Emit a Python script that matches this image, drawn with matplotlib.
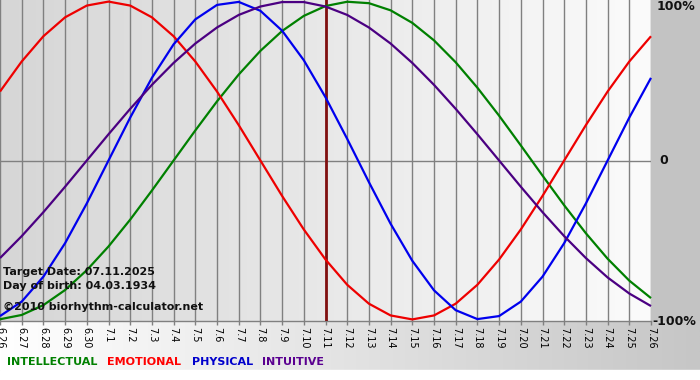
import matplotlib
matplotlib.use('Agg')
import matplotlib.pyplot as plt
import numpy as np
from matplotlib.colors import LinearSegmentedColormap
from matplotlib.patches import Rectangle

# ---- data ----
dates = ['6.26', '6.27', '6.28', '6.29', '6.30', '7.1', '7.2', '7.3', '7.4', '7.5',
         '7.6', '7.7', '7.8', '7.9', '7.10', '7.11', '7.12', '7.13', '7.14', '7.15',
         '7.16', '7.17', '7.18', '7.19', '7.20', '7.21', '7.22', '7.23', '7.24', '7.25',
         '7.26']
intellectual = [-0.999, -0.972, -0.910, -0.815, -0.690, -0.541, -0.372, -0.189, 0.0, 0.189,
                0.372, 0.541, 0.690, 0.815, 0.910, 0.972, 0.999, 0.990, 0.945, 0.866,
                0.756, 0.618, 0.458, 0.282, 0.095, -0.095, -0.282, -0.458, -0.618, -0.756,
                -0.866]
emotional = [0.434, 0.623, 0.782, 0.901, 0.975, 1.0, 0.975, 0.901, 0.782, 0.623,
             0.434, 0.223, 0.0, -0.223, -0.434, -0.623, -0.782, -0.901, -0.975, -1.0,
             -0.975, -0.901, -0.782, -0.623, -0.434, -0.223, 0.0, 0.223, 0.434, 0.623,
             0.782]
physical = [-0.979, -0.888, -0.731, -0.520, -0.270, 0.0, 0.270, 0.520, 0.731, 0.888,
            0.979, 0.998, 0.942, 0.817, 0.631, 0.398, 0.136, -0.136, -0.398, -0.631,
            -0.817, -0.942, -0.998, -0.979, -0.888, -0.731, -0.520, -0.270, 0.0, 0.270,
            0.520]
intuitive = [-0.614, -0.476, -0.325, -0.165, 0.0, 0.165, 0.325, 0.476, 0.614, 0.736,
             0.837, 0.916, 0.969, 0.997, 0.997, 0.969, 0.916, 0.837, 0.736, 0.614,
             0.476, 0.325, 0.165, 0.0, -0.165, -0.325, -0.476, -0.614, -0.736, -0.837,
             -0.916]
target_date = '7.11'
y_labels = ['100%', '0', '-100%']
y_label_values = [1.0, 0.0, -1.0]
info_lines = ['Target Date: 07.11.2025', 'Day of birth: 04.03.1934',
              '\u00a92010 biorhythm-calculator.net']
series_names = ['INTELLECTUAL', 'EMOTIONAL', 'PHYSICAL', 'INTUITIVE']
series_colors = ['#008000', '#ee0000', '#0000ee', '#4b0082']
legend_colors = ['#008000', '#ff0000', '#0000cc', '#5a0090']

W, H = 700, 380
fig = plt.figure(figsize=(7, 3.8), dpi=100)
fig.patch.set_facecolor('#c3c3c3')

# background axes in pixel coordinates
bg = fig.add_axes([0, 0, 1, 1])
grad = np.linspace(0, 1, 256).reshape(1, -1)
band_cmap = LinearSegmentedColormap.from_list('band', ['#ffffff', '#c6c6c6'])
bg.imshow(grad, extent=[0, W, 370, 321], cmap=band_cmap, aspect='auto', zorder=0)
bg.add_patch(Rectangle((0, 370), W, 10, color='white', zorder=1))
bg.set_xlim(0, W)
bg.set_ylim(H, 0)
bg.axis('off')

# main plot
ax = fig.add_axes([0, (H - 321) / H, 651 / W, 321 / H])
x = np.arange(len(dates))
ymin, ymax = -1.01, 1.01
plot_cmap = LinearSegmentedColormap.from_list('plot', ['#d6d6d6', '#fbfbfb'])
ax.imshow(grad, extent=[0, len(dates) - 1, ymin, ymax], cmap=plot_cmap,
          aspect='auto', zorder=0)
ax.set_xlim(0, len(dates) - 1)
ax.set_ylim(ymin, ymax)

ax.set_xticks(x)
ax.set_xticklabels(dates, rotation=-90, fontsize=7, family='DejaVu Sans')
ax.tick_params(axis='x', length=3, width=1, color='#808080', pad=1.5)
ax.set_yticks([])
ax.grid(axis='x', color='#808080', lw=1, zorder=1)
ax.axhline(0, color='#808080', lw=1, zorder=1)
for s in ['top', 'left', 'right']:
    ax.spines[s].set_visible(False)
ax.spines['bottom'].set_color('#808080')
ax.spines['bottom'].set_linewidth(1)

ax.axvline(dates.index(target_date), color='#801010', lw=2, zorder=3)

for vals, col in zip([intellectual, emotional, physical, intuitive], series_colors):
    ax.plot(x, vals, color=col, lw=1.6, zorder=4, clip_on=False,
            solid_capstyle='butt', solid_joinstyle='round')

# right-side labels
for lab, val in zip(y_labels, y_label_values):
    if val > 0:
        yy, xx = 0.966, 1.009
    elif val < 0:
        yy, xx = -1.016, 1.0015
    else:
        yy, xx = 0.0, 1.013
    ax.text(xx, yy, lab, transform=ax.get_yaxis_transform(), ha='left', va='center',
            fontsize=9, fontweight='bold', color='#111111', clip_on=False)

# info texts
for txt, yc in zip(info_lines, [272, 286, 306.5]):
    fig.text(3 / W, 1 - yc / H, txt, ha='left', va='center', fontsize=8,
             fontweight='bold', color='#111111')

# legend words
for name, col, xp in zip(series_names, legend_colors, [7, 107, 192, 262]):
    fig.text(xp / W, 1 - 362 / H, name, ha='left', va='center', fontsize=8,
             fontweight='bold', color=col)

fig.savefig('out.png', dpi=100, facecolor=fig.get_facecolor())
